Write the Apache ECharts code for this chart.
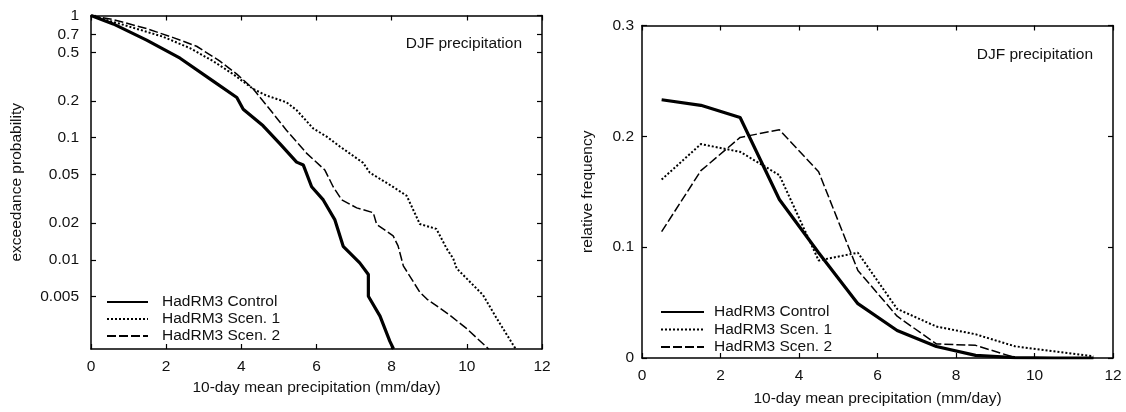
<!DOCTYPE html>
<html>
<head>
<meta charset="utf-8">
<script src="https://cdn.jsdelivr.net/npm/echarts@6/dist/echarts.min.js"></script>
<style>
html,body{margin:0;padding:0;background:#fff;}
#c{width:1126px;height:412px;}
</style>
</head>
<body>
<div id="c"></div>
<script>
// ---- Data ----
const seriesNames = ['HadRM3 Control', 'HadRM3 Scen. 1', 'HadRM3 Scen. 2'];
const panelLabel = 'DJF precipitation';
const xAxisTitle = '10-day mean precipitation (mm/day)';
const leftYTitle = 'exceedance probability';
const rightYTitle = 'relative frequency';

// Left panel: exceedance probability
const probTickValues = [1, 0.7, 0.5, 0.2, 0.1, 0.05, 0.02, 0.01, 0.005];
const probTickLabels = ['1', '0.7', '0.5', '0.2', '0.1', '0.05', '0.02', '0.01', '0.005'];
const probMin = 0.00186;

const ctrlExceedX = [0, 0.59, 1.48, 2.37, 3.25, 3.88, 4.05, 4.58, 5.03, 5.47, 5.65, 5.87, 6.18, 6.49, 6.71, 7.15, 7.38, 7.38, 7.69, 7.95, 8.05];
const ctrlExceedP = [1, 0.853, 0.628, 0.447, 0.290, 0.213, 0.171, 0.125, 0.089, 0.063, 0.0596, 0.0396, 0.0309, 0.0212, 0.0129, 0.00944, 0.00758, 0.00503, 0.00346, 0.00216, 0.00186];

const scen1ExceedX = [0, 0.86, 1.92, 2.63, 3.25, 3.78, 4.32, 4.67, 5.2, 5.47, 5.91, 6.27, 6.62, 7.24, 7.42, 8.0, 8.4, 8.75, 9.19, 9.46, 9.64, 9.73, 10.43, 10.79, 11.3];
const scen1ExceedP = [1, 0.839, 0.670, 0.541, 0.423, 0.331, 0.250, 0.221, 0.195, 0.168, 0.119, 0.102, 0.0847, 0.0622, 0.0516, 0.0402, 0.0334, 0.0196, 0.0179, 0.0124, 0.0102, 0.00849, 0.00515, 0.00333, 0.00186];

const scen2ExceedX = [0, 0.59, 1.48, 2.19, 2.81, 3.43, 3.88, 4.32, 4.85, 5.2, 5.74, 6.22, 6.44, 6.67, 7.07, 7.51, 7.6, 8.04, 8.17, 8.31, 8.75, 8.93, 9.55, 9.99, 10.58];
const scen2ExceedP = [1, 0.926, 0.781, 0.659, 0.560, 0.423, 0.331, 0.250, 0.157, 0.115, 0.0743, 0.0544, 0.0398, 0.031, 0.0266, 0.0243, 0.0195, 0.0157, 0.013, 0.00893, 0.00542, 0.00479, 0.00351, 0.00274, 0.00186];

// Right panel: relative frequency per 1 mm/day bin
const binCentres = [0.5, 1.5, 2.5, 3.5, 4.5, 5.5, 6.5, 7.5, 8.5, 9.5, 10.5, 11.5];
const ctrlFreq  = [0.233, 0.228, 0.217, 0.143, 0.095, 0.049, 0.0248, 0.0104, 0.0024, 0.0003, 0, 0];
const scen1Freq = [0.161, 0.193, 0.186, 0.165, 0.088, 0.095, 0.0443, 0.0284, 0.0214, 0.0106, 0.006, 0.0015];
const scen2Freq = [0.114, 0.169, 0.199, 0.206, 0.168, 0.079, 0.0377, 0.0127, 0.0114, 0.0004, 0, 0];

const xTickInterval = 2;

// ---- Chart ----
const FONT = '"Liberation Sans", Arial, Helvetica, sans-serif';
const INK = '#111';
const FS = 15.5;
const lineStyles = [
  {color: '#000', width: 3.2, type: 'solid'},
  {color: '#000', width: 2, type: [2, 2]},
  {color: '#000', width: 1.5, type: [9, 3]}
];

const logTicks = probTickValues.map(v => Math.log10(v));
function probLabel(v) {
  for (let i = 0; i < logTicks.length; i++) {
    if (Math.abs(logTicks[i] - v) < 1e-6) return probTickLabels[i];
  }
  return '';
}
function zip(xs, ys, f) { return xs.map((x, i) => [x, f ? f(ys[i]) : ys[i]]); }

const axisLineS = {show: true, onZero: false, lineStyle: {color: '#000', width: 1.5}};
const tickS = {show: true, inside: true, length: 5, lineStyle: {color: '#000', width: 1.2}};
const labelS = {color: INK, fontSize: FS, fontFamily: FONT};
const nameS = {color: INK, fontSize: FS, fontFamily: FONT};

function xAxes(grid, nameGap) {
  return [
    {gridIndex: grid, type: 'value', min: 0, max: 12, interval: xTickInterval, position: 'bottom',
     axisLine: axisLineS, axisTick: tickS, splitLine: {show: false},
     axisLabel: Object.assign({margin: 10}, labelS),
     name: xAxisTitle, nameLocation: 'middle', nameGap: nameGap, nameTextStyle: nameS},
    {gridIndex: grid, type: 'value', min: 0, max: 12, interval: xTickInterval, position: 'top',
     axisLine: axisLineS, axisTick: tickS, splitLine: {show: false}, axisLabel: {show: false}}
  ];
}

const legendBase = {
  orient: 'vertical', padding: 0, itemHeight: 15, selectedMode: false, data: seriesNames,
  itemStyle: {opacity: 0, borderWidth: 0}
};

const option = {
  animation: false,
  backgroundColor: '#fff',
  textStyle: {fontFamily: FONT},
  grid: [
    {left: 91, top: 15.5, width: 451, height: 333.5},
    {left: 642, top: 25.5, width: 471, height: 333}
  ],
  title: [
    {text: panelLabel, right: 1126 - 522, top: 36, padding: 0,
     textStyle: {fontSize: FS, fontWeight: 'normal', color: INK, fontFamily: FONT}},
    {text: panelLabel, right: 1126 - 1093, top: 47, padding: 0,
     textStyle: {fontSize: FS, fontWeight: 'normal', color: INK, fontFamily: FONT}}
  ],
  legend: [
    Object.assign({left: 106, top: 294, itemWidth: 41, itemGap: 1,
     textStyle: {fontSize: FS, color: INK, fontFamily: FONT, lineHeight: 15, padding: [0, 0, 0, 9]}}, legendBase),
    Object.assign({left: 660, top: 304, itemWidth: 43, itemGap: 1.5,
     textStyle: {fontSize: FS, color: INK, fontFamily: FONT, lineHeight: 15, padding: [0, 0, 0, 5]}}, legendBase)
  ],
  xAxis: xAxes(0, 30).concat(xAxes(1, 33)),
  yAxis: [
    {gridIndex: 0, type: 'value', min: Math.log10(probMin), max: 0, position: 'left',
     axisLine: axisLineS, splitLine: {show: false},
     axisTick: Object.assign({customValues: logTicks}, tickS),
     axisLabel: Object.assign({customValues: logTicks, margin: 12, formatter: probLabel}, labelS),
     name: leftYTitle, nameLocation: 'middle', nameGap: 66, nameRotate: 90, nameTextStyle: nameS},
    {gridIndex: 0, type: 'value', min: Math.log10(probMin), max: 0, position: 'right',
     axisLine: axisLineS, splitLine: {show: false},
     axisTick: Object.assign({customValues: logTicks}, tickS),
     axisLabel: {show: false}},
    {gridIndex: 1, type: 'value', min: 0, max: 0.3, interval: 0.1, position: 'left',
     axisLine: axisLineS, splitLine: {show: false}, axisTick: tickS,
     axisLabel: Object.assign({margin: 8}, labelS),
     name: rightYTitle, nameLocation: 'middle', nameGap: 46, nameRotate: 90, nameTextStyle: nameS},
    {gridIndex: 1, type: 'value', min: 0, max: 0.3, interval: 0.1, position: 'right',
     axisLine: axisLineS, splitLine: {show: false}, axisTick: tickS, axisLabel: {show: false}}
  ],
  series: [
    {name: seriesNames[0], type: 'line', xAxisIndex: 0, yAxisIndex: 0, symbol: 'none',
     itemStyle: {color: '#000'}, lineStyle: lineStyles[0], data: zip(ctrlExceedX, ctrlExceedP, Math.log10), z: 5},
    {name: seriesNames[1], type: 'line', xAxisIndex: 0, yAxisIndex: 0, symbol: 'none',
     itemStyle: {color: '#000'}, lineStyle: lineStyles[1], data: zip(scen1ExceedX, scen1ExceedP, Math.log10)},
    {name: seriesNames[2], type: 'line', xAxisIndex: 0, yAxisIndex: 0, symbol: 'none',
     itemStyle: {color: '#000'}, lineStyle: lineStyles[2], data: zip(scen2ExceedX, scen2ExceedP, Math.log10)},
    {name: seriesNames[0], type: 'line', xAxisIndex: 2, yAxisIndex: 2, symbol: 'none',
     itemStyle: {color: '#000'}, lineStyle: lineStyles[0], data: zip(binCentres, ctrlFreq), z: 5},
    {name: seriesNames[1], type: 'line', xAxisIndex: 2, yAxisIndex: 2, symbol: 'none',
     itemStyle: {color: '#000'}, lineStyle: lineStyles[1], data: zip(binCentres, scen1Freq)},
    {name: seriesNames[2], type: 'line', xAxisIndex: 2, yAxisIndex: 2, symbol: 'none',
     itemStyle: {color: '#000'}, lineStyle: lineStyles[2], data: zip(binCentres, scen2Freq)}
  ]
};

const chart = echarts.init(document.getElementById('c'), null, {renderer: 'canvas'});
chart.setOption(option);
</script>
</body>
</html>
